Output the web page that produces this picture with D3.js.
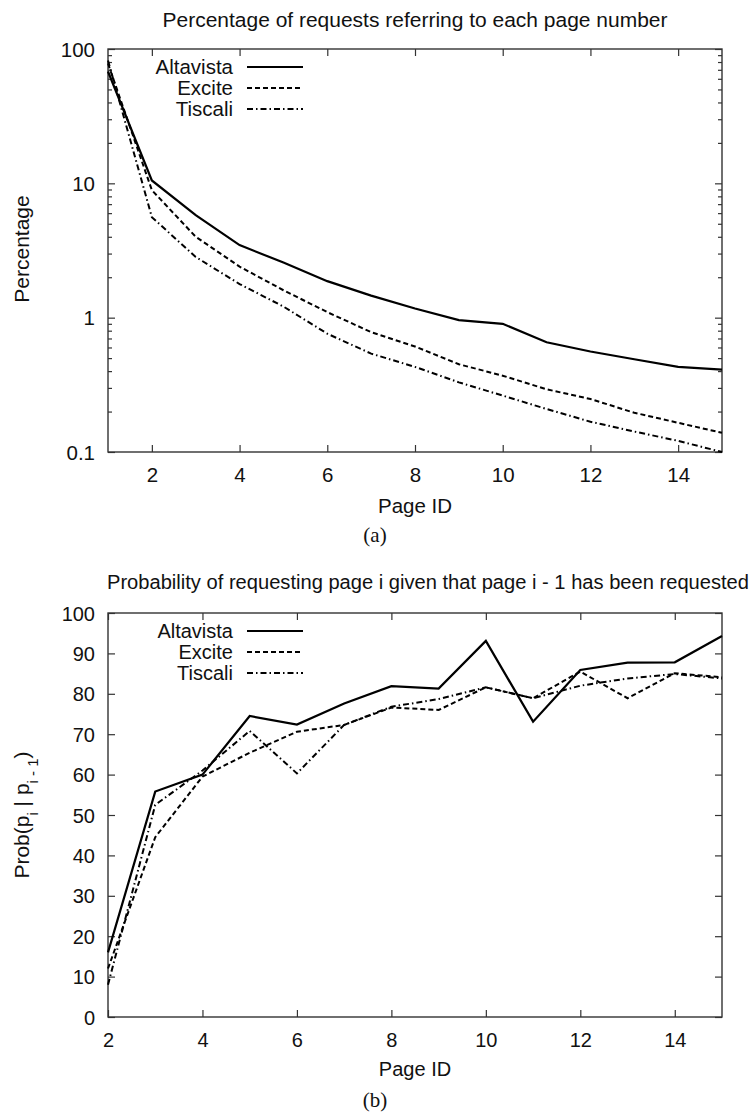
<!DOCTYPE html>
<html>
<head>
<meta charset="utf-8">
<script src="https://cdn.jsdelivr.net/npm/d3@7"></script>
<style>
  html, body { margin: 0; padding: 0; background: #fff; }
  svg { display: block; }
  text { font-family: "Liberation Sans", Arial, Helvetica, sans-serif; fill: #111; }
</style>
</head>
<body>
<svg id="chart" width="751" height="1115"></svg>
<script>
// ---------- DATA ----------
const pagesA = [1, 2, 3, 4, 5, 6, 7, 8, 9, 10, 11, 12, 13, 14, 15];
const altavistaPct = [68, 10.5, 5.8, 3.47, 2.57, 1.87, 1.46, 1.17, 0.96, 0.90, 0.656, 0.56, 0.49, 0.43, 0.41];
const excitePct    = [78, 8.9, 4.0, 2.4, 1.6, 1.1, 0.78, 0.61, 0.45, 0.37, 0.293, 0.248, 0.196, 0.165, 0.139];
const tiscaliPct   = [82, 5.6, 2.83, 1.78, 1.21, 0.76, 0.54, 0.43, 0.33, 0.263, 0.209, 0.168, 0.142, 0.121, 0.1];

const pagesB = [2, 3, 4, 5, 6, 7, 8, 9, 10, 11, 12, 13, 14, 15];
const altavistaProb = [16, 55.8, 60, 74.5, 72.4, 77.6, 81.9, 81.3, 93.1, 73.1, 85.9, 87.7, 87.8, 94.3];
const exciteProb    = [12, 44.5, 59.5, 65.4, 70.6, 72.3, 76.6, 76.0, 81.6, 78.9, 85.5, 78.9, 85.1, 84.1];
const tiscaliProb   = [8, 52.5, 61, 70.8, 60.3, 72.3, 76.8, 78.7, 81.6, 78.9, 82.0, 83.8, 84.9, 83.8];

const seriesNames = ["Altavista", "Excite", "Tiscali"];
const xTicksA = [2, 4, 6, 8, 10, 12, 14];
const yTicksA = [0.1, 1, 10, 100];
const yTickLabelsA = ["0.1", "1", "10", "100"];
const xTicksB = [2, 4, 6, 8, 10, 12, 14];
const yTicksB = [0, 10, 20, 30, 40, 50, 60, 70, 80, 90, 100];

const titleA = "Percentage of requests referring to each page number";
const titleB = "Probability of requesting page i given that page i - 1 has been requested";

// ---------- STYLE ----------
const dashes = [null, "5,3", "6,3,1.5,3"];
const svg = d3.select("#chart");

function frame(g, x, y) {
  g.append("rect")
    .attr("x", x.range()[0]).attr("y", y.range()[1])
    .attr("width", x.range()[1] - x.range()[0])
    .attr("height", y.range()[0] - y.range()[1])
    .attr("fill", "none").attr("stroke", "#333").attr("stroke-width", 1.4);
}

function ticksX(g, x, y, vals, labelY, fs) {
  const [b, t] = y.range();
  const ax = d3.axisBottom(x).tickValues(vals).tickSize(-7).tickPadding(0).tickFormat(d3.format("d"));
  const gb = g.append("g").attr("transform", `translate(0,${b})`).call(ax);
  gb.select(".domain").remove();
  gb.selectAll("line").attr("stroke", "#333").attr("stroke-width", 1.2);
  gb.selectAll("text").attr("y", labelY - b).attr("dy", null)
    .style("font-size", fs + "px").attr("fill", "#111");
  const axT = d3.axisTop(x).tickValues(vals).tickSize(-7).tickFormat("");
  const gt = g.append("g").attr("transform", `translate(0,${t})`).call(axT);
  gt.select(".domain").remove();
  gt.selectAll("line").attr("stroke", "#333").attr("stroke-width", 1.2);
}

function ticksY(g, x, y, vals, fmt, size, withLabels, fs) {
  const [l, r] = x.range();
  const ax = d3.axisLeft(y).tickValues(vals).tickSize(-size).tickPadding(13).tickFormat(withLabels ? fmt : "");
  const gl = g.append("g").attr("transform", `translate(${l},0)`).call(ax);
  gl.select(".domain").remove();
  gl.selectAll("line").attr("stroke", "#333").attr("stroke-width", 1.2);
  gl.selectAll("text").style("font-size", fs + "px").attr("fill", "#111").attr("dy", "0.35em");
  const axR = d3.axisRight(y).tickValues(vals).tickSize(-size).tickFormat("");
  const gr = g.append("g").attr("transform", `translate(${r},0)`).call(axR);
  gr.select(".domain").remove();
  gr.selectAll("line").attr("stroke", "#333").attr("stroke-width", 1.2);
}

function lines(g, x, y, xs, seriesArr) {
  seriesArr.forEach((vals, i) => {
    const line = d3.line().x((d, j) => x(xs[j])).y(d => y(d));
    g.append("path").datum(vals)
      .attr("d", line)
      .attr("fill", "none").attr("stroke", "#000")
      .attr("stroke-width", i === 0 ? 2.2 : 2)
      .attr("stroke-dasharray", dashes[i]);
  });
}

function legend(g, xTextEnd, y0, dy, fs) {
  seriesNames.forEach((n, i) => {
    const yy = y0 + i * dy;
    g.append("text").attr("x", xTextEnd).attr("y", yy).attr("dy", "0.35em")
      .attr("text-anchor", "end").style("font-size", fs + "px").text(n);
    g.append("line").attr("x1", xTextEnd + 14).attr("x2", xTextEnd + 70)
      .attr("y1", yy).attr("y2", yy)
      .attr("stroke", "#000").attr("stroke-width", i === 0 ? 2.2 : 2)
      .attr("stroke-dasharray", dashes[i]);
  });
}

// ---------- CHART (a) ----------
{
  const FS = 20.5;
  const g = svg.append("g");
  const x = d3.scaleLinear().domain([1, 15]).range([108, 722]);
  const y = d3.scaleLog().domain([0.1, 100]).range([452, 49]);

  const minor = [];
  [0.1, 1, 10].forEach(dec => { for (let k = 2; k <= 9; k++) minor.push(dec * k); });

  ticksY(g, x, y, minor, null, 4, false, FS);
  ticksY(g, x, y, yTicksA, d => yTickLabelsA[yTicksA.indexOf(d)], 7, true, FS);
  ticksX(g, x, y, xTicksA, 482, FS);
  frame(g, x, y);
  lines(g, x, y, pagesA, [altavistaPct, excitePct, tiscaliPct]);
  legend(g, 233, 67, 21, FS);

  g.append("text").attr("x", 415).attr("y", 27).attr("text-anchor", "middle")
    .attr("textLength", 505).attr("lengthAdjust", "spacingAndGlyphs")
    .style("font-size", FS + "px").text(titleA);
  g.append("text").attr("x", 415).attr("y", 513).attr("text-anchor", "middle")
    .style("font-size", FS + "px").text("Page ID");
  g.append("text").attr("x", 29).attr("y", 249).attr("text-anchor", "middle")
    .attr("transform", "rotate(-90,29,249)")
    .style("font-size", "21px").text("Percentage");
  g.append("text").attr("x", 375).attr("y", 542).attr("text-anchor", "middle")
    .style("font-family", "'Liberation Serif', 'DejaVu Serif', serif")
    .style("font-size", "21px").text("(a)");
}

// ---------- CHART (b) ----------
{
  const FS = 20;
  const g = svg.append("g");
  const x = d3.scaleLinear().domain([2, 15]).range([108, 722]);
  const y = d3.scaleLinear().domain([0, 100]).range([1017, 613]);

  ticksY(g, x, y, yTicksB, d3.format("d"), 7, true, FS);
  ticksX(g, x, y, xTicksB, 1047, FS);
  frame(g, x, y);
  lines(g, x, y, pagesB, [altavistaProb, exciteProb, tiscaliProb]);
  legend(g, 233, 631, 21, FS);

  g.append("text").attr("x", 428).attr("y", 589).attr("text-anchor", "middle")
    .attr("textLength", 642).attr("lengthAdjust", "spacingAndGlyphs")
    .style("font-size", FS + "px").text(titleB);
  g.append("text").attr("x", 415).attr("y", 1076).attr("text-anchor", "middle")
    .style("font-size", FS + "px").text("Page ID");
  const yl = g.append("text").attr("x", 29).attr("y", 815).attr("text-anchor", "middle")
    .attr("transform", "rotate(-90,29,815)")
    .style("font-size", "21px");
  yl.append("tspan").text("Prob(p");
  yl.append("tspan").attr("baseline-shift", "sub").style("font-size", "15px").text("i");
  yl.append("tspan").text(" | p");
  yl.append("tspan").attr("baseline-shift", "sub").style("font-size", "15px").text("i - 1");
  yl.append("tspan").text(")");
  g.append("text").attr("x", 375).attr("y", 1107).attr("text-anchor", "middle")
    .style("font-family", "'Liberation Serif', 'DejaVu Serif', serif")
    .style("font-size", "21px").text("(b)");
}
</script>
</body>
</html>
